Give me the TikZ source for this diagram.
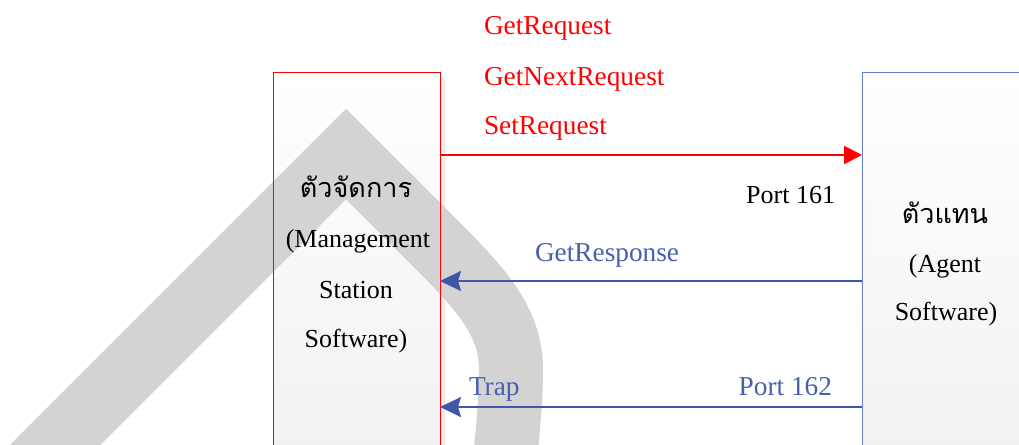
\documentclass[tikz,border=0pt]{standalone}
\usepackage{fontspec}
\setmainfont{Liberation Serif}
\newfontfamily\thaifont[Script=Thai]{Loma}
\usetikzlibrary{arrows.meta,calc}
\definecolor{reqred}{RGB}{255,0,0}
\definecolor{resline}{RGB}{63,87,166}
\definecolor{restext}{RGB}{72,96,172}
\definecolor{agentline}{RGB}{100,128,205}
\definecolor{markgray}{RGB}{211,211,211}
\begin{document}
\begin{tikzpicture}[x=1pt,y=-1pt,
  every node/.style={inner sep=0pt,outer sep=0pt},
  station/.style={rectangle,anchor=north west,shading=axis,
    top color=white,bottom color=black!6,minimum height=420pt},
  txt/.style={font=\fontsize{26}{26}\selectfont},
  msg/.style={font=\fontsize{27.3}{27.3}\selectfont},
  thai/.style={font=\thaifont\fontsize{27}{27}\selectfont},
  reqarrow/.style={draw=reqred,line width=2pt,-{Triangle[length=18pt,width=18pt]}},
  resarrow/.style={draw=resline,line width=2.2pt,-{Stealth[length=21pt,width=20pt,inset=3pt]}}]
\useasboundingbox (0,0) rectangle (1019,444);
\clip (0,0) rectangle (1019,444);

% station boxes (fill only; borders are drawn later)
\node[station,minimum width=167pt] (mgr) at (273,72) {};
\node[station,minimum width=200pt] (agent) at (862,72) {};
\fill[black!7] ($(mgr.north east)+(0,5)$) rectangle ($(mgr.south east)+(5,0)$);

% grey watermark stroke
\draw[markgray,line width=64pt,line join=miter]
  (20,480) -- (346,154) -- (430,238)
  .. controls (480,288) and (511,320) .. (511,370)
  .. controls (511,400) and (508,430) .. (503,480);

% box borders
\draw[reqred,line width=0.8pt] (mgr.south west) |- (mgr.north east) -- (mgr.south east);
\draw[agentline,line width=0.8pt] (agent.south west) |- (agent.north east);

% box labels
\node[thai,anchor=base] (mgrth) at (356,197) {ตัวจัดการ};
\node[txt,anchor=base] (mgr1) at (358,247) {(Management};
\node[txt,anchor=base] (mgr2) at (356,298) {Station};
\node[txt,anchor=base] (mgr3) at (356,347) {Software)};
\node[thai,anchor=base] (agth) at (945,223) {ตัวแทน};
\node[txt,anchor=base] (ag1) at (945,272) {(Agent};
\node[txt,anchor=base] (ag2) at (946,320) {Software)};

% message labels
\node[msg,text=reqred,anchor=base west] (getreq) at (484,35) {GetRequest};
\node[msg,text=reqred,anchor=base west] (getnext) at (484,85) {GetNextRequest};
\node[msg,text=reqred,anchor=base west] (setreq) at (484,134) {SetRequest};
\node[txt,anchor=base east] (port161) at (835,203) {Port 161};
\node[msg,text=restext,anchor=base west] (getres) at (535,261) {GetResponse};
\node[msg,text=restext,anchor=base west] (trap) at (469,395) {Trap};
\node[msg,text=restext,anchor=base east] (port162) at (832,395) {Port 162};

% message rows
\coordinate (rowreq) at (0,155);
\coordinate (rowres) at (0,281);
\coordinate (rowtrap) at (0,407);
\draw[reqarrow] (mgr.east |- rowreq) -- (agent.west |- rowreq);
\draw[resarrow] (agent.west |- rowres) -- (mgr.east |- rowres);
\draw[resarrow] (agent.west |- rowtrap) -- (mgr.east |- rowtrap);
\end{tikzpicture}
\end{document}
